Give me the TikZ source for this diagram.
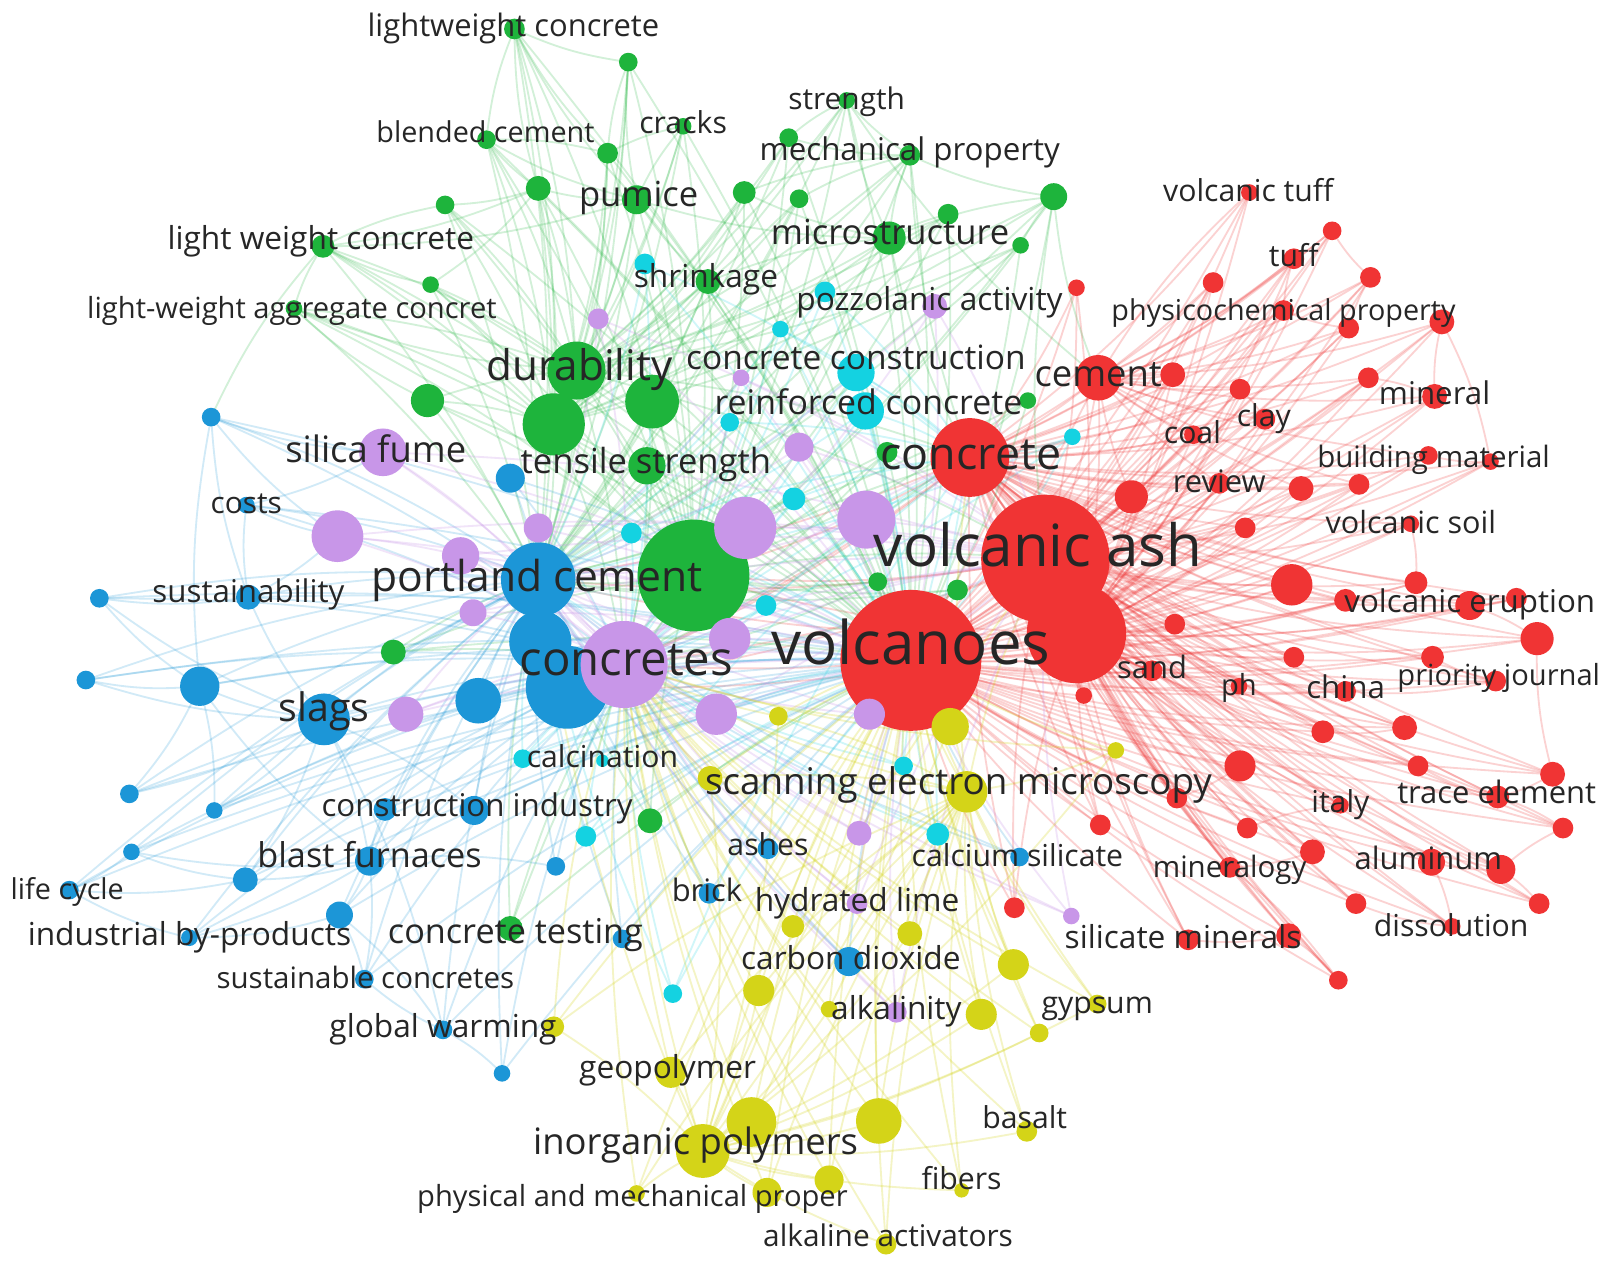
\documentclass[tikz,border=0pt]{standalone}
\usepackage{fontspec}
\setmainfont{Open Sans}
\pgfdeclarelayer{bg}
\pgfdeclarelayer{edges}
\pgfsetlayers{bg,edges,main}
\definecolor{vred}{RGB}{240,52,52}
\definecolor{vgreen}{RGB}{30,180,60}
\definecolor{vblue}{RGB}{28,150,215}
\definecolor{vcyan}{RGB}{20,210,225}
\definecolor{vpurple}{RGB}{200,150,232}
\definecolor{vyellow}{RGB}{212,212,24}
\tikzset{
  lab/.style={font=\fontsize{#1}{#1}\selectfont, text=black!85, inner sep=0pt, anchor=mid},
  eR/.style={draw=vred, opacity=0.22, line width=0.5pt},
  eG/.style={draw=vgreen, opacity=0.2, line width=0.5pt},
  eB/.style={draw=vblue, opacity=0.2, line width=0.5pt},
  eC/.style={draw=vcyan, opacity=0.2, line width=0.5pt},
  eP/.style={draw=vpurple, opacity=0.25, line width=0.5pt},
  eY/.style={draw=vyellow, opacity=0.25, line width=0.5pt},
}
\newcommand\vnode[5]{\node[circle,fill=#5,minimum size=#4*0.02cm,inner sep=0pt] (#1) at (#2,#3) {};}
\newcommand\vlab[5]{\node[lab=#4] (#1-t) at (#2,#3) {#5};}
\newcommand\vedges[3]{\foreach \s in {#2}{\foreach \t in {#3}{\draw[#1] (\s.center) to[bend left=7] (\t.center);}}}
\begin{document}
\begin{tikzpicture}[x=0.01cm,y=-0.01cm]
\useasboundingbox (0,0) rectangle (1568,1228);
\begin{pgfonlayer}{bg}
\fill[white] (0,0) rectangle (1568,1228);
\end{pgfonlayer}
% ---------- big nodes first ----------
\vnode{r3}{1040}{612}{48}{vred}
\vnode{vash}{1010}{540}{62}{vred}
\vnode{volc}{880}{638}{68}{vred}
\vnode{concrete}{937}{442}{38}{vred}
\vnode{g27}{670}{556}{54}{vgreen}
\vnode{b11}{548}{664}{40}{vblue}
\vnode{b10}{522}{620}{30}{vblue}
\vnode{crets}{603}{642}{42}{vpurple}
\vnode{pc}{520}{560}{36}{vblue}
\vnode{dur}{557}{358}{28}{vgreen}
\vnode{g24}{630}{388}{26}{vgreen}
\vnode{g25}{535}{410}{30}{vgreen}
\vnode{p10}{720}{510}{30}{vpurple}
\vnode{p11}{837}{502}{28}{vpurple}
% ---------- red ----------
\vnode{cement}{1061}{365}{22}{vred}
\vnode{r6}{1133}{362}{12}{vred}
\vnode{vtuff}{1207}{186}{8}{vred}
\vnode{r8}{1287}{223}{9}{vred}
\vnode{tuff}{1250}{250}{10}{vred}
\vnode{r10}{1172}{273}{10}{vred}
\vnode{r11}{1324}{268}{10}{vred}
\vnode{r12}{1040}{278}{8}{vred}
\vnode{phys}{1240}{300}{10}{vred}
\vnode{r14}{1303}{317}{10}{vred}
\vnode{r15}{1393}{311}{12}{vred}
\vnode{r16}{1198}{376}{10}{vred}
\vnode{r17}{1322}{365}{10}{vred}
\vnode{mineral}{1386}{383}{12}{vred}
\vnode{clay}{1222}{405}{10}{vred}
\vnode{coal}{1153}{420}{9}{vred}
\vnode{bmat}{1380}{440}{9}{vred}
\vnode{r22}{1440}{446}{8}{vred}
\vnode{r23}{1313}{468}{10}{vred}
\vnode{r24}{1257}{472}{12}{vred}
\vnode{review}{1178}{467}{10}{vred}
\vnode{r26}{1093}{480}{16}{vred}
\vnode{r27}{1203}{510}{10}{vred}
\vnode{vsoil}{1363}{506}{8}{vred}
\vnode{r29}{1248}{565}{20}{vred}
\vnode{r30}{1135}{603}{10}{vred}
\vnode{r31}{1300}{580}{11}{vred}
\vnode{r32}{1368}{563}{11}{vred}
\vnode{verupt}{1420}{585}{14}{vred}
\vnode{r34}{1465}{578}{10}{vred}
\vnode{r35}{1485}{617}{16}{vred}
\vnode{r36}{1250}{635}{10}{vred}
\vnode{r37}{1384}{635}{11}{vred}
\vnode{sand}{1113}{648}{10}{vred}
\vnode{ph}{1197}{663}{8}{vred}
\vnode{china}{1300}{668}{10}{vred}
\vnode{prio}{1445}{658}{10}{vred}
\vnode{r42}{1047}{672}{8}{vred}
\vnode{r43}{1278}{707}{11}{vred}
\vnode{r44}{1357}{703}{12}{vred}
\vnode{r45}{1198}{740}{15}{vred}
\vnode{r46}{1370}{740}{10}{vred}
\vnode{r47}{1500}{748}{12}{vred}
\vnode{r48}{1137}{771}{10}{vred}
\vnode{italy}{1295}{778}{8}{vred}
\vnode{trace}{1447}{770}{11}{vred}
\vnode{r51}{1205}{800}{10}{vred}
\vnode{r52}{1063}{797}{10}{vred}
\vnode{r53}{1510}{800}{10}{vred}
\vnode{minlogy}{1188}{838}{10}{vred}
\vnode{r55}{1268}{823}{12}{vred}
\vnode{alum}{1383}{833}{13}{vred}
\vnode{r57}{1450}{840}{14}{vred}
\vnode{r58}{1310}{873}{10}{vred}
\vnode{r59}{1487}{873}{10}{vred}
\vnode{diss}{1403}{895}{8}{vred}
\vnode{silmin}{1148}{908}{10}{vred}
\vnode{r62}{1245}{904}{12}{vred}
\vnode{r63}{1293}{947}{9}{vred}
\vnode{r64}{980}{877}{10}{vred}
% ---------- green ----------
\vnode{lwc}{497}{28}{10}{vgreen}
\vnode{g2}{607}{60}{9}{vgreen}
\vnode{strength}{818}{97}{8}{vgreen}
\vnode{cracks}{660}{122}{8}{vgreen}
\vnode{g5}{762}{133}{9}{vgreen}
\vnode{blended}{470}{135}{9}{vgreen}
\vnode{g7}{587}{148}{10}{vgreen}
\vnode{mech}{879}{150}{10}{vgreen}
\vnode{g9}{430}{198}{9}{vgreen}
\vnode{g10}{520}{182}{12}{vgreen}
\vnode{pumice}{615}{193}{14}{vgreen}
\vnode{g12}{719}{186}{11}{vgreen}
\vnode{g13}{772}{192}{9}{vgreen}
\vnode{g14}{1018}{190}{13}{vgreen}
\vnode{g15}{916}{207}{10}{vgreen}
\vnode{micro}{859}{230}{16}{vgreen}
\vnode{g17}{986}{237}{8}{vgreen}
\vnode{lwc2}{312}{238}{11}{vgreen}
\vnode{g19}{416}{275}{8}{vgreen}
\vnode{lwagg}{284}{298}{8}{vgreen}
\vnode{shrink}{684}{272}{12}{vgreen}
\vnode{g22}{413}{387}{16}{vgreen}
\vnode{tensile}{625}{450}{18}{vgreen}
\vnode{g28}{380}{630}{12}{vgreen}
\vnode{g29}{628}{793}{12}{vgreen}
\vnode{ctest}{493}{897}{12}{vgreen}
\vnode{g31}{857}{437}{10}{vgreen}
\vnode{g32}{848}{562}{9}{vgreen}
\vnode{g33}{925}{570}{10}{vgreen}
\vnode{g34}{993}{387}{8}{vgreen}
% ---------- cyan ----------
\vnode{c1}{623}{255}{10}{vcyan}
\vnode{c2}{797}{282}{10}{vcyan}
\vnode{c3}{754}{318}{8}{vcyan}
\vnode{cconst}{827}{360}{18}{vcyan}
\vnode{rconc}{836}{397}{18}{vcyan}
\vnode{c6}{705}{408}{9}{vcyan}
\vnode{c7}{1036}{422}{8}{vcyan}
\vnode{c8}{767}{482}{11}{vcyan}
\vnode{c9}{610}{515}{10}{vcyan}
\vnode{c10}{740}{585}{10}{vcyan}
\vnode{c11}{505}{733}{9}{vcyan}
\vnode{calc}{582}{735}{6}{vcyan}
\vnode{c12}{873}{740}{9}{vcyan}
\vnode{c13}{906}{806}{11}{vcyan}
\vnode{c14}{650}{960}{9}{vcyan}
\vnode{c15}{566}{808}{10}{vcyan}
% ---------- blue ----------
\vnode{b1}{204}{403}{9}{vblue}
\vnode{costs}{238}{488}{8}{vblue}
\vnode{b3}{96}{578}{9}{vblue}
\vnode{sust}{240}{577}{12}{vblue}
\vnode{b5}{83}{657}{9}{vblue}
\vnode{b6}{193}{663}{19}{vblue}
\vnode{slags}{313}{695}{25}{vblue}
\vnode{b8}{462}{677}{22}{vblue}
\vnode{b12}{493}{462}{14}{vblue}
\vnode{b13}{125}{767}{9}{vblue}
\vnode{b14}{207}{783}{8}{vblue}
\vnode{b15}{127}{823}{8}{vblue}
\vnode{b16}{372}{782}{11}{vblue}
\vnode{cind}{458}{783}{14}{vblue}
\vnode{blast}{357}{832}{14}{vblue}
\vnode{b19}{237}{850}{12}{vblue}
\vnode{life}{67}{860}{9}{vblue}
\vnode{b21}{328}{884}{13}{vblue}
\vnode{indbp}{183}{906}{8}{vblue}
\vnode{b23}{601}{907}{9}{vblue}
\vnode{b24}{537}{837}{9}{vblue}
\vnode{sconc}{352}{946}{9}{vblue}
\vnode{gwarm}{428}{995}{9}{vblue}
\vnode{b27}{485}{1037}{8}{vblue}
\vnode{ashes}{742}{820}{10}{vblue}
\vnode{brick}{685}{863}{10}{vblue}
\vnode{co2}{820}{929}{14}{vblue}
\vnode{calsil}{985}{828}{9}{vblue}
% ---------- purple ----------
\vnode{p1}{578}{308}{10}{vpurple}
\vnode{pozz}{903}{296}{12}{vpurple}
\vnode{p3}{716}{365}{8}{vpurple}
\vnode{silica}{370}{437}{23}{vpurple}
\vnode{p6}{772}{432}{14}{vpurple}
\vnode{p7}{326}{518}{25}{vpurple}
\vnode{p8}{445}{537}{18}{vpurple}
\vnode{p9}{520}{510}{14}{vpurple}
\vnode{p12}{457}{592}{13}{vpurple}
\vnode{p14}{705}{617}{20}{vpurple}
\vnode{p15}{392}{690}{17}{vpurple}
\vnode{p16}{692}{690}{20}{vpurple}
\vnode{p17}{840}{690}{15}{vpurple}
\vnode{p18}{830}{805}{12}{vpurple}
\vnode{hlime}{828}{873}{10}{vpurple}
\vnode{alkal}{866}{978}{10}{vpurple}
\vnode{p21}{1035}{885}{8}{vpurple}
% ---------- yellow ----------
\vnode{y1}{752}{692}{9}{vyellow}
\vnode{y2}{918}{702}{18}{vyellow}
\vnode{y3}{686}{752}{12}{vyellow}
\vnode{sem}{934}{765}{20}{vyellow}
\vnode{y5}{1078}{725}{8}{vyellow}
\vnode{y6}{766}{895}{11}{vyellow}
\vnode{y7}{879}{902}{12}{vyellow}
\vnode{y8}{733}{957}{15}{vyellow}
\vnode{y9}{979}{932}{15}{vyellow}
\vnode{y10}{948}{980}{15}{vyellow}
\vnode{y11}{1004}{998}{9}{vyellow}
\vnode{y12}{801}{975}{8}{vyellow}
\vnode{geopol}{648}{1036}{15}{vyellow}
\vnode{y14}{726}{1084}{24}{vyellow}
\vnode{inorg}{679}{1112}{26}{vyellow}
\vnode{y16}{849}{1083}{22}{vyellow}
\vnode{y17}{741}{1152}{14}{vyellow}
\vnode{y18}{801}{1140}{14}{vyellow}
\vnode{basalt}{992}{1093}{10}{vyellow}
\vnode{fibers}{929}{1150}{7}{vyellow}
\vnode{alkact}{856}{1202}{10}{vyellow}
\vnode{gypsum}{1060}{970}{9}{vyellow}
\vnode{physmech}{615}{1153}{8}{vyellow}
\vnode{y24}{535}{992}{10}{vyellow}
% ---------- edges ----------
\begin{pgfonlayer}{edges}
\vedges{eR}{cement,r6,vtuff,r8,tuff,r10,r11,r12,phys,r14,r15,r16,r17,mineral,clay,coal,bmat,r22,r23,r24,review,r26,r27,vsoil,r29,r30,r31,r32,verupt,r34,r35,r36,r37,sand,ph,china,prio,r42,r43,r44,r45,r46,r47,r48,italy,trace,r51,r52,r53,minlogy,r55,alum,r57,r58,r59,diss,silmin,r62,r63,r64}{volc,vash,r3,concrete}
\vedges{eR}{r6,r8,tuff,r10,r11,phys,r14,r15,r16,r17,mineral,clay,coal,bmat,review,r26,r24,r23}{cement}
\vedges{eR}{vash,r3,concrete}{pc,crets,g27,b11}
\foreach \s/\t in {vtuff/cement,tuff/phys,r8/r11,phys/r14,r15/mineral,r11/r14,clay/r16,mineral/r17,bmat/r22,r23/r24,verupt/r34,r35/verupt,r32/vsoil,china/ph,china/prio,r43/r44,trace/r47,r53/trace,alum/r57,r58/diss,r59/r57,silmin/r62,r63/minlogy,minlogy/r55,italy/r51,r48/r45,r22/r15,r35/r47,r53/r57,r63/r62,diss/alum,r46/trace,r37/prio,r29/r31}
  {\draw[eR] (\s.center) to[bend right=8] (\t.center);}
\vedges{eG}{lwc,g2,strength,cracks,g5,blended,g7,mech,g9,g10,pumice,g12,g13,g14,g15,micro,g17,lwc2,g19,lwagg,shrink,g22}{g27,volc,dur,g25,pc}
\vedges{eG}{g24,g25,tensile,g28,g29,ctest,g31,g32,g33,g34}{g27,volc,pc,crets}
\vedges{eG}{dur}{g27,volc,pc,crets,concrete,vash}
\vedges{eG}{g27}{volc,vash,concrete,crets,pc,b11}
\foreach \s/\t in {lwc/g2,lwc/blended,lwc/g7,lwc/pumice,g2/g7,g2/pumice,strength/mech,strength/g5,strength/micro,cracks/g7,cracks/pumice,g5/mech,g7/blended,mech/micro,mech/g14,mech/g13,mech/g12,g14/micro,g14/g17,g15/micro,blended/g10,g9/lwc2,lwc2/lwagg,lwc2/g19,lwc2/g10,lwagg/g22,g19/g10,pumice/shrink,g12/micro,micro/shrink,g14/cement,micro/concrete,pumice/micro,g10/pumice,lwc2/pumice,lwagg/dur,lwc2/b1,g14/vash,mech/concrete,strength/cement,lwc/g10,g9/g10,blended/pumice}
  {\draw[eG] (\s.center) to[bend right=8] (\t.center);}
\vedges{eB}{b1,costs,b3,sust,b5,b6,slags,b8,b10,b11,b12,b13,b14,b15,b16,cind,blast,b19,life,b21,indbp,b23,b24,sconc,gwarm,b27,ashes,brick,co2,calsil}{pc,crets,volc}
\foreach \s/\t in {b1/sust,b1/b6,costs/sust,b3/sust,b3/b6,b5/b6,b6/slags,sust/slags,b13/b6,b13/slags,b14/slags,b15/blast,life/b19,life/indbp,b19/blast,b21/blast,indbp/b21,sconc/b21,sconc/gwarm,gwarm/b21,blast/slags,cind/slags,b16/blast,b24/blast,b27/gwarm,sconc/blast,b19/slags,indbp/blast,b1/silica,b1/p7,costs/p7,b5/slags,life/b15,b15/b19,b14/b6,gwarm/slags,b6/blast,b3/slags,costs/silica,sust/p7}
  {\draw[eB] (\s.center) to[bend right=8] (\t.center);}
\vedges{eC}{c1,c2,c3,cconst,rconc,c6,c7,c8,c9,c10,calc,c11,c12,c13,c14,c15}{pc,crets,volc,concrete}
\vedges{eP}{p1,pozz,p3,silica,p6,p7,p8,p9,p10,p11,p12,p14,p15,p16,p17,p18,hlime,alkal,p21}{crets,volc,pc,vash}
\vedges{eP}{crets}{volc,vash,concrete,b11}
\vedges{eY}{y1,y2,y3,y5,y6,y7,y8,y9,y10,y11,y12,geopol,y14,y16,y17,y18,basalt,fibers,alkact,gypsum,physmech,y24}{volc,inorg,sem,crets}
\vedges{eY}{inorg}{volc,crets,pc,vash}
\vedges{eY}{sem}{volc,vash,crets,concrete}
\end{pgfonlayer}
% ---------- labels ----------
\vlab{lwc}{496}{26}{8.5}{lightweight concrete}
\vlab{strength}{818}{96}{8.2}{strength}
\vlab{cracks}{660}{120}{8.3}{cracks}
\vlab{blended}{469}{128}{7.9}{blended cement}
\vlab{mech}{879}{146}{8.6}{mechanical property}
\vlab{pumice}{617}{190}{9.5}{pumice}
\vlab{micro}{860}{227}{9.5}{microstructure}
\vlab{lwc2}{310}{232}{8.7}{light weight concrete}
\vlab{lwagg}{282}{298}{8.0}{light-weight aggregate concret}
\vlab{shrink}{682}{268}{8.7}{shrinkage}
\vlab{pozz}{898}{291}{8.7}{pozzolanic activity}
\vlab{cconst}{827}{348}{9.2}{concrete construction}
\vlab{rconc}{839}{391}{9.3}{reinforced concrete}
\vlab{dur}{560}{358}{11.6}{durability}
\vlab{silica}{363}{437}{10}{silica fume}
\vlab{tensile}{624}{448}{9.5}{tensile strength}
\vlab{concrete}{938}{444}{12.3}{concrete}
\vlab{cement}{1061}{364}{10}{cement}
\vlab{costs}{238}{487}{8.2}{costs}
\vlab{pc}{519}{562}{11.7}{portland cement}
\vlab{sust}{240}{573}{8.6}{sustainability}
\vlab{vash}{1003}{538}{16}{volcanic ash}
\vlab{volc}{880}{633}{16.5}{volcanoes}
\vlab{crets}{605}{643}{13}{concretes}
\vlab{slags}{313}{688}{10.8}{slags}
\vlab{calc}{582}{732}{8.3}{calcination}
\vlab{sem}{926}{758}{10.1}{scanning electron microscopy}
\vlab{cind}{461}{779}{8.6}{construction industry}
\vlab{blast}{357}{829}{9.4}{blast furnaces}
\vlab{ashes}{742}{817}{8.3}{ashes}
\vlab{calsil}{983}{828}{8.3}{calcium silicate}
\vlab{life}{65}{860}{7.9}{life cycle}
\vlab{brick}{683}{862}{8.5}{brick}
\vlab{hlime}{828}{871}{8.7}{hydrated lime}
\vlab{indbp}{183}{904}{8.7}{industrial by-products}
\vlab{ctest}{498}{902}{9.4}{concrete testing}
\vlab{sconc}{353}{946}{8.1}{sustainable concretes}
\vlab{co2}{822}{927}{8.7}{carbon dioxide}
\vlab{alkal}{866}{976}{8.7}{alkalinity}
\vlab{gypsum}{1060}{970}{8.3}{gypsum}
\vlab{gwarm}{428}{993}{8.7}{global warming}
\vlab{geopol}{645}{1033}{8.7}{geopolymer}
\vlab{inorg}{672}{1106}{10}{inorganic polymers}
\vlab{basalt}{990}{1081}{8.3}{basalt}
\vlab{fibers}{929}{1140}{8.3}{fibers}
\vlab{physmech}{611}{1156}{8.0}{physical and mechanical proper}
\vlab{alkact}{858}{1195}{8.2}{alkaline activators}
\vlab{vtuff}{1206}{185}{8.3}{volcanic tuff}
\vlab{tuff}{1250}{248}{8.3}{tuff}
\vlab{phys}{1240}{300}{7.9}{physicochemical property}
\vlab{mineral}{1386}{381}{8.6}{mineral}
\vlab{clay}{1221}{403}{8.3}{clay}
\vlab{coal}{1152}{419}{8.3}{coal}
\vlab{bmat}{1385}{442}{8.1}{building material}
\vlab{review}{1178}{466}{8.5}{review}
\vlab{vsoil}{1363}{506}{8.4}{volcanic soil}
\vlab{verupt}{1420}{582}{8.6}{volcanic eruption}
\vlab{sand}{1113}{646}{8.5}{sand}
\vlab{ph}{1197}{663}{8}{ph}
\vlab{china}{1300}{665}{8.6}{china}
\vlab{prio}{1448}{653}{8.0}{priority journal}
\vlab{italy}{1295}{776}{8.3}{italy}
\vlab{trace}{1446}{767}{8.5}{trace element}
\vlab{minlogy}{1188}{838}{8.1}{mineralogy}
\vlab{alum}{1380}{831}{8.5}{aluminum}
\vlab{diss}{1402}{895}{8.3}{dissolution}
\vlab{silmin}{1143}{907}{8.7}{silicate minerals}
\end{tikzpicture}
\end{document}
